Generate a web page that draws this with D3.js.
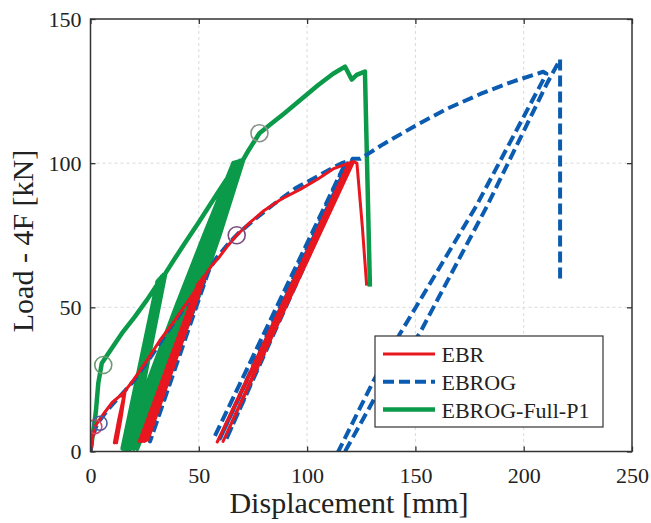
<!DOCTYPE html>
<html>
<head>
<meta charset="utf-8">
<script src="https://cdn.jsdelivr.net/npm/d3@7"></script>
<style>
  html, body { margin: 0; padding: 0; background: #fff; }
  svg { display: block; }
  text { font-family: "Liberation Serif", "Times New Roman", serif; fill: #222; }
</style>
</head>
<body>
<div id="chart"></div>
<script>
// ---- data ----
const xTicks = [0, 50, 100, 150, 200, 250];
const yTicks = [0, 50, 100, 150];
const xLabel = "Displacement [mm]";
const yLabel = "Load - 4F [kN]";
const seriesNames = ["EBR", "EBROG", "EBROG-Full-P1"];

// EBR: displacement [mm], load [kN]
const ebr = [
  [0,0],[0.8,4],[2,8.6],[6,13],[10,17],[15.5,20.5],
  [13.5,10],[11,3],[13,11],[15.8,20.8],[13,10],[12,3],[14,11],[16,21],
  [20,25],[26,31.5],[32,38.5],[38,44.5],[44,51],[49,56.5],[52,60.5],
  [22.5,3.5],[49.5,58],[23.3,3.5],[50.2,58.8],[24.1,3.5],[51,59.5],[24.9,3.5],[51.8,60.2],
  [25.7,3.8],[52.6,60.8],[26.5,4],[53.3,61.5],
  [56,64.5],[59,67],[63,71],[67.5,75],[73,79],[80,83.5],[88,87.5],[97,91],[105,94.5],[112,98],[118,99.7],[121,100.5],
  [58.5,3.3],[119,99.5],[61.2,3.5],[121.5,100.5],
  [123,100],[125.5,78],[127.5,57.5]
];

// EBROG
const ebrog = [
  [0,0],[1,5],[3,9.5],[8,14.5],[14,19.5],[20,24.5],[28,33],[36,42],[44,50.5],[50,57],[54,62],
  [24.5,3.5],[52,60],[27.5,3.5],[54.5,62.5],
  [58,67],[63,71.5],[68,75.5],[75,80],[85,86],[95,91.5],[105,95.5],[112,98.5],[116,100],[118,100.5],
  [57,4.7],[117.5,99.5],[59.8,4.5],[119.5,101],[62.5,4],[121,101.5],
  [124.5,101.5],[135,106.5],[150,113],[165,119],[180,124],[195,128.3],[209,131.7],[210.5,131],
  [178,85],[143,41],[131,25],[114.4,0],
  [117.5,0],[136,25],[152,41],[183,85],[211,128],[216.8,136],
  [216.8,60]
];

// EBROG-Full-P1
const ebrogFull = [
  [0,0],[0.5,3],[1.5,8],[2.5,14],[3.6,23.7],[5.2,30.6],[10,36],[15,41.5],[20.5,46.8],[26,52.5],[30,57],[33.5,60.6],
  [14.8,1],[31,59],[15.5,1],[31.7,59.6],[16.2,1],[32.4,60.2],[17,1],[33.1,60.8],[17.8,1],[33.8,61.3],[18.5,1],[34.5,61.7],
  [39,67],[43.6,72.3],[50,79.5],[56,86.5],[62,93.5],[67,99],[69.8,101],
  [58,75],[45,50],[32,25],[15.5,1],[27,25],[39.5,50],[52.5,75],[66,100],
  [53,75],[40.5,50],[28,25],[16.5,1],[28.5,25],[41,50],[54,75],[67,100.3],
  [55,75],[42.5,50],[30,25],[17.5,1],[30,25],[43,50],[55.5,75],[68,100.5],
  [56.5,75],[44.5,50],[31.5,25],[18.5,1],[31.5,25],[45,50],[57,75],[69,100.8],
  [58,75],[46.5,50],[33,25],[20,1],[33,25],[47,50],[58.5,75],[70,101],
  [59,75],[47.5,50],[34,25],[21.5,1],[34,25],[48,50],[59.5,75],[70.5,101.2],
  [73,104.5],[78,110.4],[84,114],[89,117],[97,122],[105,127],[112,131],[117.5,133.5],
  [120.6,129],[122.9,130.6],[126.7,131.8],[129,57.2]
];

// marker circles (displacement, load)
const markerX = [2, 4.4, 5.9, 67.5, 78];
const markerY = [8.6, 9.8, 30, 75, 110.4];
const markerColors = ["#d04a6a", "#4a5aa0", "#6a9a72", "#7a4a7a", "#8a948a"];

// ---- drawing ----
const W = 651, H = 523;
const pL = 90.5, pR = 632, pT = 19, pB = 451.5;
const colors = { red: "#e8161e", blue: "#0b5cb0", green: "#0b9a4a" };

const svg = d3.select("#chart").append("svg").attr("width", W).attr("height", H);

const x = d3.scaleLinear().domain([0, 250]).range([pL, pR]);
const y = d3.scaleLinear().domain([0, 150]).range([pB, pT]);

// grid
const grid = svg.append("g");
grid.selectAll("line.vx").data(xTicks.slice(1, -1)).enter().append("line")
  .attr("x1", d => x(d)).attr("x2", d => x(d)).attr("y1", pT).attr("y2", pB)
  .attr("stroke", "#dadada").attr("stroke-width", 1).attr("stroke-dasharray", "3,3");
grid.selectAll("line.hy").data(yTicks.slice(1, -1)).enter().append("line")
  .attr("x1", pL).attr("x2", pR).attr("y1", d => y(d)).attr("y2", d => y(d))
  .attr("stroke", "#dadada").attr("stroke-width", 1).attr("stroke-dasharray", "3,3");

// clip for lines
svg.append("clipPath").attr("id", "clip").append("rect")
  .attr("x", pL).attr("y", pT).attr("width", pR - pL).attr("height", pB - pT);

const line = d3.line().x(d => x(d[0])).y(d => y(d[1]));
const plot = svg.append("g").attr("clip-path", "url(#clip)");

const blueDash = "11,5";
plot.append("path").datum(ebrogFull).attr("d", line)
  .attr("fill", "none").attr("stroke", colors.green).attr("stroke-width", 4.5)
  .attr("stroke-linejoin", "round");
plot.append("path").datum(ebrog).attr("d", line)
  .attr("fill", "none").attr("stroke", colors.blue).attr("stroke-width", 4)
  .attr("stroke-dasharray", blueDash).attr("stroke-linejoin", "round");
plot.append("path").datum(ebr).attr("d", line)
  .attr("fill", "none").attr("stroke", colors.red).attr("stroke-width", 3)
  .attr("stroke-linejoin", "round");

// markers
plot.selectAll("circle.m").data(markerX).enter().append("circle")
  .attr("cx", (d, i) => x(d)).attr("cy", (d, i) => y(markerY[i]))
  .attr("r", (d, i) => i < 2 ? 7 : 8.5)
  .attr("fill", "none").attr("stroke", (d, i) => markerColors[i]).attr("stroke-width", 1.6);

// axes
const fs = 22;
const axB = svg.append("g").attr("transform", `translate(0,${pB})`)
  .call(d3.axisBottom(x).tickValues(xTicks).tickSizeInner(-5).tickSizeOuter(0).tickPadding(16));
const axL = svg.append("g").attr("transform", `translate(${pL},0)`)
  .call(d3.axisLeft(y).tickValues(yTicks).tickSizeInner(-5).tickSizeOuter(0).tickPadding(9));
const axT = svg.append("g").attr("transform", `translate(0,${pT})`)
  .call(d3.axisTop(x).tickValues(xTicks).tickSizeInner(-5).tickSizeOuter(0).tickFormat(""));
const axR = svg.append("g").attr("transform", `translate(${pR},0)`)
  .call(d3.axisRight(y).tickValues(yTicks).tickSizeInner(-5).tickSizeOuter(0).tickFormat(""));
[axB, axL, axT, axR].forEach(a => {
  a.select(".domain").remove();
  a.selectAll("line").attr("stroke", "#333").attr("stroke-width", 1.3);
  a.selectAll("text").attr("font-size", fs).attr("font-family", "Liberation Serif").attr("fill", "#222");
});

// box
svg.append("rect").attr("x", pL).attr("y", pT).attr("width", pR - pL).attr("height", pB - pT)
  .attr("fill", "none").attr("stroke", "#333").attr("stroke-width", 1.5);

// axis labels
svg.append("text").attr("x", 349).attr("y", 513).attr("text-anchor", "middle")
  .attr("font-size", 30).text(xLabel);
svg.append("text").attr("transform", "translate(33,241) rotate(-90)").attr("text-anchor", "middle")
  .attr("font-size", 30).text(yLabel);

// legend
const lg = svg.append("g");
lg.append("rect").attr("x", 375).attr("y", 336).attr("width", 228).attr("height", 91)
  .attr("fill", "#fff").attr("stroke", "#333").attr("stroke-width", 1.2);
const legStyles = [
  { c: colors.red, w: 3, dash: null },
  { c: colors.blue, w: 4, dash: blueDash },
  { c: colors.green, w: 4.5, dash: null }
];
const legY = d3.scalePoint().domain(seriesNames).range([354, 409.5]);
seriesNames.forEach((name, i) => {
  const yy = legY(name);
  lg.append("line").attr("x1", 383).attr("x2", 435).attr("y1", yy).attr("y2", yy)
    .attr("stroke", legStyles[i].c).attr("stroke-width", legStyles[i].w)
    .attr("stroke-dasharray", legStyles[i].dash);
  lg.append("text").attr("x", 441.5).attr("y", yy + 8).attr("font-size", fs).text(name);
});
</script>
</body>
</html>
